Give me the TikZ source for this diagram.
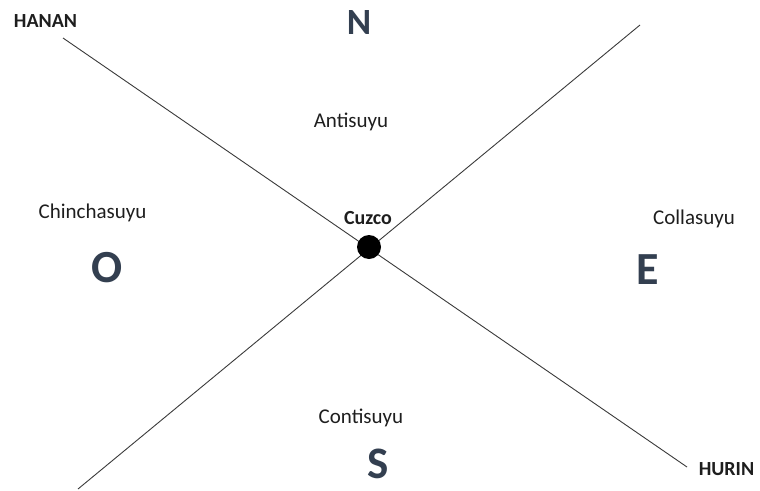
\documentclass[tikz,border=0pt]{standalone}
\usepackage{fontspec}
\setmainfont{Carlito}
\definecolor{bigc}{HTML}{333F50}
\definecolor{linec}{HTML}{3A3A3A}
\definecolor{txtc}{HTML}{1E1E1E}
\begin{document}
\begin{tikzpicture}[x=1pt,y=-1pt,
  lbl/.style={anchor=base,inner sep=0pt,text=txtc,font=\fontsize{21}{25}\selectfont},
  blbl/.style={anchor=base,inner sep=0pt,text=txtc,font=\fontsize{20}{24}\selectfont\bfseries},
  big/.style={anchor=base,inner sep=0pt,text depth=0pt,text=bigc,font=\fontsize{46}{50}\selectfont\bfseries},
  axis/.style={draw=linec,line width=0.9pt}]
\useasboundingbox (0,0) rectangle (760,490);
% line ends
\coordinate (nw) at (63,38);
\coordinate (se) at (687,467);
\coordinate (ne) at (640,25);
\coordinate (sw) at (78,489);
\draw[axis] (nw) -- (se);
\draw[axis] (ne) -- (sw);
\node[circle,fill=black,minimum size=24pt,inner sep=0pt] (cuzcodot) at (369,247) {};
% labels
\node[blbl] (hanan) at (45.5,27) {HANAN};
\node[blbl] (hurin) at (726.5,475) {HURIN};
\node[blbl] (cuzco) at (368,224) {Cuzco};
\node[lbl] (anti) at (351,127) {Antisuyu};
\node[lbl] (chin) at (92.5,218) {Chinchasuyu};
\node[lbl] (colla) at (694,224) {Collasuyu};
\node[lbl] (conti) at (361,423) {Contisuyu};
\node[big,font=\fontsize{37}{40}\selectfont\bfseries] (north) at (359,34) {N};
\node[big] (west) at (107,282) {O};
\node[big] (east) at (648,284) {E};
\node[big,font=\fontsize{45}{48}\selectfont\bfseries] (south) at (378,478) {S};
\end{tikzpicture}
\end{document}
